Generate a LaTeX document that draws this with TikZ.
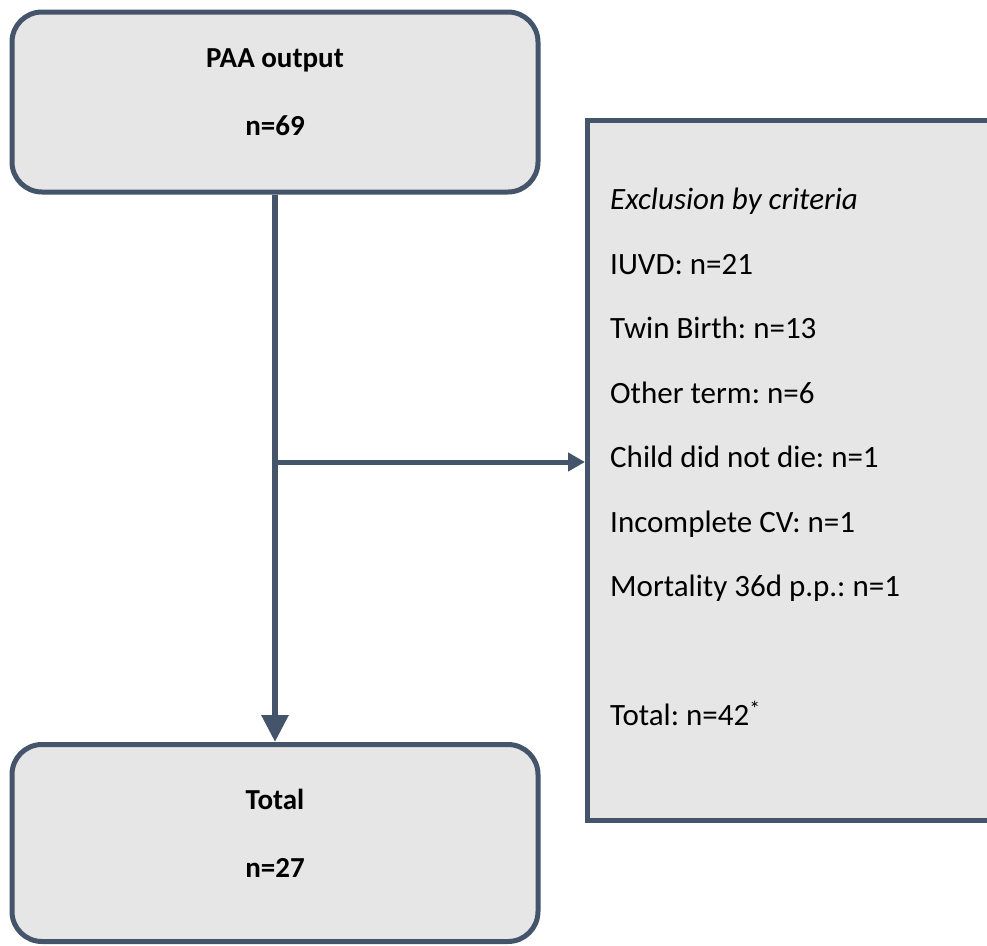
\documentclass[tikz,border=0pt]{standalone}
\usepackage{fontspec}
\setmainfont{Carlito}
\frenchspacing
\usetikzlibrary{arrows.meta}
\definecolor{boxline}{RGB}{68,84,106}
\definecolor{boxfill}{RGB}{231,230,230}

\begin{document}
\begin{tikzpicture}[x=1pt,y=-1pt,
	stagebox/.style={draw=boxline, fill=boxfill, line width=5pt, rounded corners=30pt, minimum width=526pt, align=center, text depth=19pt, font=\bfseries\fontsize{29}{68}\selectfont},
	exclbox/.style={draw=boxline, fill=boxfill, line width=5pt, minimum width=600pt, minimum height=700pt, anchor=north west},
	crittext/.style={align=left, inner sep=0pt, anchor=north west, font=\fontsize{31}{64.5}\selectfont},
	flow/.style={draw=boxline, line width=6pt}]
		\useasboundingbox (0,0) rectangle (987,945);
		\node[stagebox, minimum height=180pt] (paa) at (275,102) {PAA output\\n=69};
		\node[stagebox, minimum height=197pt] (total) at (275,843) {Total\\n=27};
		\node[exclbox] (excl) at (585,118) {};
		\node[crittext] (crit) at (610,188) {\textit{Exclusion by criteria}\\IUVD: n=21\\Twin Birth: n=13\\Other term: n=6\\Child did not die: n=1\\Incomplete CV: n=1\\Mortality 36d p.p.: n=1\\[64.5pt]Total: n=42\textsuperscript{*}};
		
		\draw[flow, -{Triangle[width=26pt,length=27pt]}] (paa.south) -- (total.north);
		\coordinate (lvl) at (0,462);
		\coordinate (split) at (paa.south |- lvl);
		\draw[flow, line width=5pt, -{Triangle[width=18pt,length=17pt]}] (split) -- (split -| excl.west);
	\end{tikzpicture}
\end{document}
